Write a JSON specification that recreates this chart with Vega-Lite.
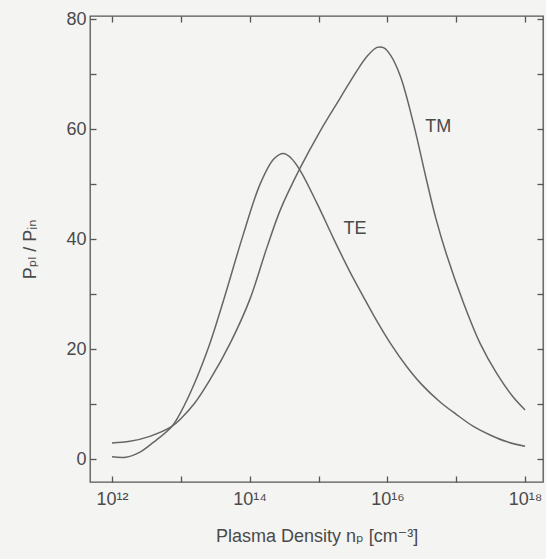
{
  "$schema": "https://vega.github.io/schema/vega-lite/v6.json",
  "width": 453,
  "height": 466,
  "autosize": {"type": "none"},
  "padding": {"left": 90, "top": 16, "right": 3, "bottom": 77},
  "background": "#f4f4f2",
  "config": {
    "view": {"stroke": "#555555", "strokeWidth": 1.3},
    "font": "Liberation Sans, DejaVu Sans",
    "axis": {
      "grid": false,
      "domain": false,
      "tickColor": "#555555",
      "tickWidth": 1.3,
      "tickSize": -6,
      "labelColor": "#4a4a4a",
      "titleColor": "#4a4a4a",
      "labelFontSize": 18,
      "titleFontSize": 18,
      "titleFontWeight": "normal",
      "labelFont": "Liberation Sans, DejaVu Sans",
      "titleFont": "Liberation Sans, DejaVu Sans"
    }
  },
  "datasets": {
    "curves": [
      {"n": 1e12, "p": 0.5, "mode": "TE"},
      {"n": 1.585e12, "p": 0.4, "mode": "TE"},
      {"n": 2.512e12, "p": 1.3, "mode": "TE"},
      {"n": 3.981e12, "p": 3.1, "mode": "TE"},
      {"n": 7.413e12, "p": 6.0, "mode": "TE"},
      {"n": 1e13, "p": 8.6, "mode": "TE"},
      {"n": 1.514e13, "p": 13.3, "mode": "TE"},
      {"n": 2.630e13, "p": 21.0, "mode": "TE"},
      {"n": 4.169e13, "p": 28.9, "mode": "TE"},
      {"n": 8.128e13, "p": 41.0, "mode": "TE"},
      {"n": 1.413e14, "p": 50.0, "mode": "TE"},
      {"n": 2.239e14, "p": 54.6, "mode": "TE"},
      {"n": 3.090e14, "p": 55.6, "mode": "TE"},
      {"n": 3.981e14, "p": 54.8, "mode": "TE"},
      {"n": 5.370e14, "p": 52.6, "mode": "TE"},
      {"n": 9.550e14, "p": 46.5, "mode": "TE"},
      {"n": 1.660e15, "p": 40.1, "mode": "TE"},
      {"n": 2.884e15, "p": 34.0, "mode": "TE"},
      {"n": 4.467e15, "p": 29.6, "mode": "TE"},
      {"n": 6.310e15, "p": 26.2, "mode": "TE"},
      {"n": 1.096e16, "p": 21.2, "mode": "TE"},
      {"n": 1.905e16, "p": 16.9, "mode": "TE"},
      {"n": 3.162e16, "p": 13.6, "mode": "TE"},
      {"n": 5.888e16, "p": 10.4, "mode": "TE"},
      {"n": 1e17, "p": 8.2, "mode": "TE"},
      {"n": 1.778e17, "p": 6.0, "mode": "TE"},
      {"n": 3.162e17, "p": 4.4, "mode": "TE"},
      {"n": 5.495e17, "p": 3.2, "mode": "TE"},
      {"n": 1e18, "p": 2.4, "mode": "TE"},
      {"n": 1e12, "p": 3.0, "mode": "TM"},
      {"n": 1.820e12, "p": 3.3, "mode": "TM"},
      {"n": 3.548e12, "p": 4.2, "mode": "TM"},
      {"n": 7.413e12, "p": 6.0, "mode": "TM"},
      {"n": 1e13, "p": 7.4, "mode": "TM"},
      {"n": 1.585e13, "p": 10.2, "mode": "TM"},
      {"n": 2.630e13, "p": 14.4, "mode": "TM"},
      {"n": 5.248e13, "p": 21.2, "mode": "TM"},
      {"n": 1e14, "p": 29.0, "mode": "TM"},
      {"n": 1.778e14, "p": 38.5, "mode": "TM"},
      {"n": 2.818e14, "p": 45.5, "mode": "TM"},
      {"n": 5.370e14, "p": 52.9, "mode": "TM"},
      {"n": 1.047e15, "p": 59.6, "mode": "TM"},
      {"n": 2.042e15, "p": 65.6, "mode": "TM"},
      {"n": 3.548e15, "p": 70.5, "mode": "TM"},
      {"n": 5.012e15, "p": 73.2, "mode": "TM"},
      {"n": 7.079e15, "p": 74.9, "mode": "TM"},
      {"n": 8.913e15, "p": 74.8, "mode": "TM"},
      {"n": 1.122e16, "p": 73.4, "mode": "TM"},
      {"n": 1.549e16, "p": 69.6, "mode": "TM"},
      {"n": 2.399e16, "p": 61.0, "mode": "TM"},
      {"n": 3.715e16, "p": 50.7, "mode": "TM"},
      {"n": 5.012e16, "p": 44.0, "mode": "TM"},
      {"n": 7.244e16, "p": 37.2, "mode": "TM"},
      {"n": 1.288e17, "p": 28.3, "mode": "TM"},
      {"n": 2.239e17, "p": 21.0, "mode": "TM"},
      {"n": 3.890e17, "p": 15.6, "mode": "TM"},
      {"n": 6.761e17, "p": 11.3, "mode": "TM"},
      {"n": 1e18, "p": 9.0, "mode": "TM"}
    ],
    "labels": [
      {"n": 3.388e15, "p": 41.9, "text": "TE"},
      {"n": 5.495e16, "p": 60.4, "text": "TM"}
    ]
  },
  "layer": [
    {
      "data": {"name": "curves"},
      "mark": {"type": "line", "color": "#666666", "strokeWidth": 1.5, "interpolate": "catmull-rom"},
      "encoding": {
        "x": {
          "field": "n", "type": "quantitative",
          "scale": {"type": "log", "domain": [4.8e11, 1.82e18], "nice": false},
          "axis": {
            "orient": "bottom",
            "values": [1e12, 1e13, 1e14, 1e15, 1e16, 1e17, 1e18],
            "labelExpr": "datum.value == 1e12 ? '10¹²' : datum.value == 1e14 ? '10¹⁴' : datum.value == 1e16 ? '10¹⁶' : datum.value == 1e18 ? '10¹⁸' : ''",
            "labelPadding": 14,
            "labelFlush": false,
            "labelOverlap": false,
            "title": "Plasma Density  nₚ [cm⁻³]",
            "titlePadding": 19
          }
        },
        "y": {
          "field": "p", "type": "quantitative",
          "scale": {"domain": [-4.1, 80.6], "nice": false, "zero": false},
          "axis": {
            "orient": "left",
            "values": [0, 10, 20, 30, 40, 50, 60, 70, 80],
            "labelExpr": "datum.value % 20 == 0 ? datum.label : ''",
            "labelPadding": 10,
            "title": "Pₚₗ / Pᵢₙ",
            "titlePadding": 26
          }
        },
        "detail": {"field": "mode"}
      }
    },
    {
      "data": {"name": "labels"},
      "mark": {"type": "text", "fontSize": 18, "color": "#4a4a4a", "align": "center", "baseline": "middle", "font": "Liberation Sans"},
      "encoding": {
        "x": {"field": "n", "type": "quantitative", "scale": {"type": "log", "domain": [4.8e11, 1.82e18], "nice": false}, "axis": null},
        "y": {"field": "p", "type": "quantitative", "scale": {"domain": [-4.1, 80.6], "nice": false, "zero": false}, "axis": null},
        "text": {"field": "text"}
      }
    },
    {
      "data": {"name": "curves"},
      "mark": {"type": "line", "opacity": 0},
      "encoding": {
        "x": {
          "field": "n", "type": "quantitative",
          "scale": {"type": "log", "domain": [4.8e11, 1.82e18], "nice": false},
          "axis": {"orient": "top", "values": [1e12, 1e13, 1e14, 1e15, 1e16, 1e17, 1e18], "labels": false, "title": null}
        },
        "y": {
          "field": "p", "type": "quantitative",
          "scale": {"domain": [-4.1, 80.6], "nice": false, "zero": false},
          "axis": {"orient": "right", "values": [0, 10, 20, 30, 40, 50, 60, 70, 80], "labels": false, "title": null}
        },
        "detail": {"field": "mode"}
      }
    }
  ],
  "resolve": {"scale": {"x": "independent", "y": "independent"}, "axis": {"x": "independent", "y": "independent"}}
}
